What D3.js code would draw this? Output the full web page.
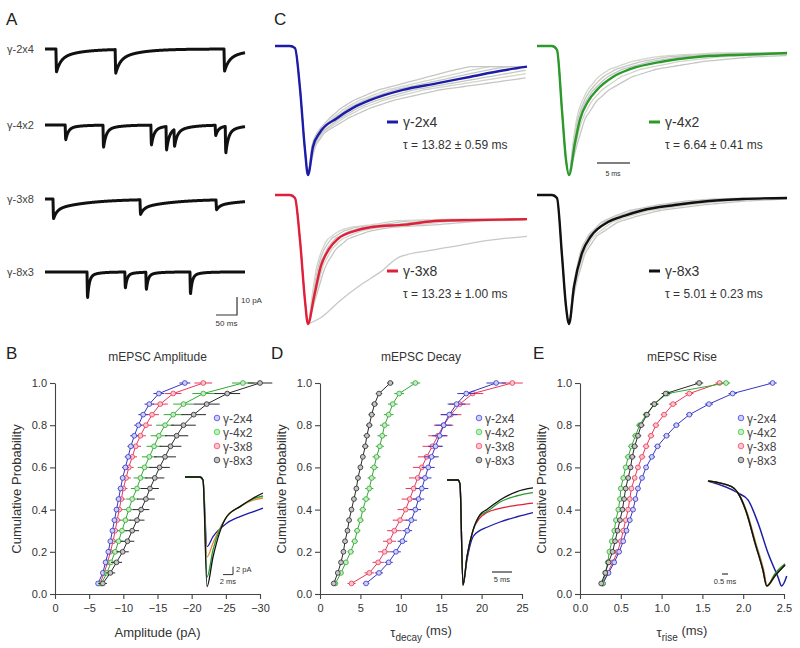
<!DOCTYPE html>
<html><head><meta charset="utf-8">
<script src="https://cdn.jsdelivr.net/npm/d3@7"></script>
<style>
body{margin:0;background:#fff}
svg{display:block}
text{font-family:"Liberation Sans",Arial,Helvetica,sans-serif;fill:#333}
</style>
</head><body>
<svg id="fig" width="800" height="648"></svg>
<script>
// ---------------- DATA ----------------
const seriesNames = ["γ-2x4", "γ-4x2", "γ-3x8", "γ-8x3"];
const lineColors = ["#3535c8", "#34a834", "#e8385a", "#2a2a2a"];
const markFills = ["#d0d0f6", "#c4ecc4", "#f9c6cc", "#c4c4c4"];
const traceColors = ["#1c1ca8", "#2b9a2b", "#e0203a", "#111111"];

const probs = [0.05,0.10,0.15,0.20,0.25,0.30,0.35,0.40,0.45,0.50,0.55,0.60,0.65,0.70,0.75,0.80,0.85,0.90,0.95,1.00];

// B: amplitude (pA)
const ampG2x4 = [-6.3,-7.0,-7.4,-7.8,-8.1,-8.4,-8.7,-9.0,-9.3,-9.6,-9.9,-10.3,-10.7,-11.1,-11.6,-12.2,-12.9,-13.8,-15.2,-19.0];
const ampG4x2 = [-6.8,-7.6,-8.2,-8.8,-9.3,-9.8,-10.3,-10.8,-11.3,-12.0,-12.5,-13.1,-13.8,-14.5,-15.2,-16.1,-17.3,-18.8,-21.7,-27.5];
const ampG3x8 = [-6.6,-7.2,-7.7,-8.1,-8.5,-8.8,-9.1,-9.4,-9.7,-10.0,-10.4,-10.8,-11.3,-11.8,-12.5,-13.3,-14.2,-15.4,-17.3,-21.7];
const ampG8x3 = [-7.0,-8.1,-9.0,-9.9,-10.6,-11.3,-12.0,-12.6,-13.3,-13.9,-14.6,-15.3,-16.1,-16.9,-17.8,-18.8,-20.3,-22.2,-25.2,-30.0];
const ampErrG2x4 = [0.3,0.3,0.3,0.3,0.3,0.3,0.4,0.4,0.4,0.4,0.4,0.5,0.5,0.5,0.6,0.6,0.7,0.7,0.8,0.8];
const ampErrG4x2 = [0.5,0.5,0.6,0.6,0.7,0.7,0.8,0.8,0.9,0.9,1.0,1.0,1.1,1.1,1.2,1.3,1.4,1.5,1.6,1.6];
const ampErrG3x8 = [0.4,0.4,0.4,0.5,0.5,0.5,0.5,0.6,0.6,0.6,0.7,0.7,0.7,0.8,0.8,0.9,1.0,1.1,1.2,1.3];
const ampErrG8x3 = [0.6,0.7,0.8,0.9,1.0,1.0,1.1,1.2,1.3,1.3,1.4,1.5,1.6,1.6,1.7,1.8,1.8,1.9,1.9,1.8];

// D: decay tau (ms)
const decG2x4 = [5.7,7.3,8.5,9.4,10.2,10.8,11.3,11.8,12.2,12.6,13.0,13.4,13.8,14.3,14.8,15.3,16.0,16.9,18.1,21.8];
const decG4x2 = [1.9,2.6,3.2,3.8,4.3,4.6,5.0,5.3,5.7,6.1,6.4,6.7,7.0,7.4,7.7,8.0,8.5,9.0,9.8,11.8];
const decG3x8 = [3.9,6.1,7.2,8.0,8.6,9.2,9.9,10.6,11.1,11.6,12.1,12.6,13.2,13.9,14.6,15.3,16.2,17.3,18.9,23.8];
const decG8x3 = [1.7,2.2,2.6,2.9,3.1,3.4,3.6,3.9,4.2,4.5,4.7,5.0,5.3,5.6,5.8,6.1,6.4,6.75,7.3,8.7];
const decErrG2x4 = [0.4,0.5,0.5,0.6,0.6,0.6,0.7,0.7,0.7,0.8,0.8,0.8,0.9,0.9,0.9,1.0,1.0,1.1,1.1,1.2];
const decErrG4x2 = [0.3,0.3,0.3,0.4,0.4,0.4,0.4,0.4,0.5,0.5,0.5,0.5,0.5,0.5,0.6,0.6,0.6,0.6,0.6,0.6];
const decErrG3x8 = [0.5,0.6,0.7,0.8,0.8,0.9,0.9,1.0,1.0,1.0,1.1,1.1,1.1,1.2,1.2,1.2,1.3,1.3,1.3,1.3];
const decErrG8x3 = [0.2,0.2,0.2,0.2,0.3,0.3,0.3,0.3,0.3,0.3,0.3,0.3,0.3,0.4,0.4,0.4,0.4,0.4,0.4,0.4];

// E: rise tau (ms)
const riseG2x4 = [0.28,0.35,0.42,0.48,0.53,0.57,0.61,0.65,0.68,0.71,0.76,0.81,0.88,0.95,1.06,1.18,1.34,1.58,1.87,2.36];
const riseG4x2 = [0.28,0.31,0.34,0.36,0.39,0.42,0.44,0.47,0.49,0.50,0.53,0.56,0.59,0.63,0.68,0.73,0.81,0.91,1.07,1.79];
const riseG3x8 = [0.28,0.34,0.40,0.46,0.50,0.53,0.56,0.59,0.61,0.63,0.67,0.71,0.76,0.81,0.87,0.93,1.03,1.14,1.34,1.71];
const riseG8x3 = [0.26,0.31,0.35,0.40,0.43,0.46,0.49,0.52,0.54,0.56,0.59,0.62,0.64,0.67,0.71,0.75,0.82,0.91,1.05,1.46];
const riseErr = [0.02,0.02,0.02,0.02,0.02,0.03,0.03,0.03,0.03,0.03,0.03,0.03,0.04,0.04,0.04,0.04,0.04,0.05,0.05,0.05];

// A: event times (ms) and amplitudes (pA) per example trace
const evTimes = [[26,167,426],[48,138,252,288,307,405,429],[19,226,407],[100,190,240,345]];
const evAmps  = [[-14,-14.5,-13.5],[-10,-15,-13.5,-16,-11.5,-7,-18],[-12,-9,-6],[-19.5,-12,-13,-16.5]];
const evTauFast = [10, 6, 8, 4];
const evTauSlow = [50, 30, 80, 20];
const evFracFast = [0.6, 0.8, 0.5, 0.85];

// C: normalized averaged traces (time ms, normalized current)
const cT_2x4 = [0,2.27,3.03,3.79,4.55,5.0,5.76,6.82,9.39,11.82,14.4,19.4,24.5,29.5,34.5,38.2];
const cV_2x4 = [0,0,-0.016,-0.33,-0.81,-1,-0.78,-0.67,-0.56,-0.48,-0.42,-0.34,-0.29,-0.24,-0.19,-0.16];
const cT_4x2 = [0,2.27,3.03,3.79,4.39,4.85,5.76,6.52,7.73,9.09,11.5,14.1,19.1,24.2,29.2,34.2,37.9];
const cV_4x2 = [0,0,-0.03,-0.5,-0.88,-1,-0.75,-0.57,-0.43,-0.34,-0.24,-0.18,-0.12,-0.085,-0.07,-0.062,-0.054];
const cT_3x8 = [0,2.27,3.03,3.79,4.55,5.0,5.91,6.97,8.18,9.55,12.0,14.5,19.7,24.8,30.0,38.2];
const cV_3x8 = [0,0,-0.023,-0.35,-0.82,-1,-0.79,-0.55,-0.42,-0.34,-0.28,-0.25,-0.23,-0.2,-0.195,-0.187];
const cT_8x3 = [0,2.27,3.03,3.79,4.39,4.85,5.61,6.82,8.18,10.76,13.33,15.9,20.9,26.1,31.2,37.9];
const cV_8x3 = [0,0,-0.023,-0.47,-0.86,-1,-0.71,-0.45,-0.32,-0.21,-0.16,-0.12,-0.078,-0.047,-0.031,-0.023];
// individual-cell spread (time-stretch factor of decay)
const cStretch = [[0.72,0.82,0.9,1.1,1.2,1.35],[0.7,0.85,1.15,1.3,1.5],[0.75,0.88,1.12,1.3,1.5],[0.8,0.9,1.1,1.2]];
const cOutT = [5.0,6.97,9.85,12.9,15.9,18.9,23.5,28.0,32.6,38.2];
const cOutV = [-1,-0.95,-0.82,-0.7,-0.6,-0.48,-0.43,-0.39,-0.35,-0.32];
const tauLabels = ["τ = 13.82 ± 0.59 ms", "τ = 6.64 ± 0.41 ms", "τ = 13.23 ± 1.00 ms", "τ = 5.01 ± 0.23 ms"];

// insets
const insBT = [0,3,3.6,4.4,5.6,8.3,11,13.6,15.6];
const insBV = [[0,0,-0.75,-17.4,-14.9,-11.6,-9.9,-8.7,-7.8],[0,0,-0.75,-25,-18.2,-10,-7.4,-5.5,-4.75],[0,0,-0.75,-20,-16.5,-10,-7.4,-5.8,-5.25],[0,0,-0.75,-27.4,-20,-10,-7.4,-5.3,-4]];
const insDT = [0,2.75,3.25,4,5,6.5,8.25,10,13.25,17.5,21.5];
const insDV = [[0,0,-0.04,-1,-0.76,-0.54,-0.48,-0.45,-0.4,-0.35,-0.31],[0,0,-0.04,-1,-0.73,-0.48,-0.34,-0.3,-0.21,-0.15,-0.12],[0,0,-0.04,-1,-0.73,-0.48,-0.36,-0.31,-0.27,-0.24,-0.22],[0,0,-0.04,-1,-0.73,-0.48,-0.33,-0.28,-0.19,-0.11,-0.076]];
const insET = [[0,2.5,3.33,4.17,5.0,5.83,6.14,6.56],[0,1.97,2.5,3.22,3.92,4.58,4.89,5.6,6.42],[0,1.97,2.5,3.25,3.95,4.62,4.93,5.6,6.42],[0,1.97,2.5,3.22,3.92,4.58,4.89,5.6,6.42]];
const insEV = [[0,-0.114,-0.18,-0.4,-0.686,-0.914,-1,-0.905],[0,-0.054,-0.114,-0.305,-0.59,-0.85,-1,-0.88,-0.79],[0,-0.054,-0.114,-0.3,-0.58,-0.84,-1,-0.9,-0.8],[0,-0.054,-0.114,-0.305,-0.59,-0.85,-1,-0.9,-0.8]];

// ---------------- DRAW ----------------
const svg = d3.select("#fig");
const font = '"Liberation Sans",Arial,Helvetica,sans-serif';

function letter(t, x, y) {
  svg.append("text").attr("x", x).attr("y", y).attr("font-size", 17).style("fill","#222").text(t);
}
letter("A", 6, 25); letter("C", 274, 25); letter("B", 6, 359); letter("D", 271, 359); letter("E", 533, 359);

// ----- Panel A -----
const xA = d3.scaleLinear().domain([0, 476]).range([45, 245]);
const baseA = [49, 125, 199, 272];
const tSamp = d3.range(0, 476.01, 0.5);
evTimes.forEach((times, i) => {
  const yA = d3.scaleLinear().domain([0, -10]).range([baseA[i], baseA[i] + 18]);
  const vals = tSamp.map(t => {
    let v = 0;
    times.forEach((t0, k) => {
      const dt = t - t0;
      if (dt >= 0) {
        const rise = Math.min(1, dt / 1.2);
        v += evAmps[i][k] * rise * (evFracFast[i] * Math.exp(-dt / evTauFast[i]) + (1 - evFracFast[i]) * Math.exp(-dt / evTauSlow[i]));
      }
    });
    return v;
  });
  svg.append("path").datum(tSamp.map((t, j) => [t, vals[j]]))
    .attr("d", d3.line().x(d => xA(d[0])).y(d => yA(d[1])))
    .attr("fill", "none").attr("stroke", "#111").attr("stroke-width", 3).attr("stroke-linejoin", "round");
  svg.append("text").attr("x", 7).attr("y", baseA[i] + 4).attr("font-size", 11).style("fill", "#444").text(seriesNames[[0,1,2,3][i]]);
});
// scale bar A
{
  const y0 = 297, ySc = d3.scaleLinear().domain([0, 10]).range([0, 18]);
  const xEnd = xA(457), xStart = xA(407);
  svg.append("path").attr("d", `M${xStart},${y0 + ySc(10)}H${xEnd}V${y0}`).attr("fill", "none").attr("stroke", "#333").attr("stroke-width", 1.2);
  svg.append("text").attr("x", xEnd + 4).attr("y", y0 + 6).attr("font-size", 8).text("10 pA");
  svg.append("text").attr("x", (xStart + xEnd) / 2).attr("y", y0 + 29).attr("font-size", 8).attr("text-anchor", "middle").text("50 ms");
}

// ----- Panel C -----
const cTs = [cT_2x4, cT_4x2, cT_3x8, cT_8x3];
const cVs = [cV_2x4, cV_4x2, cV_3x8, cV_8x3];
const cX0 = [275, 537, 275, 537], cY0 = [46, 46, 195, 195];
const cPeakT = [5.0, 4.85, 5.0, 4.85];
cTs.forEach((ts, i) => {
  const xC = d3.scaleLinear().domain([0, 38.2]).range([cX0[i], cX0[i] + 252]);
  const yC = d3.scaleLinear().domain([0, -1]).range([cY0[i], cY0[i] + 129]);
  const pts = ts.map((t, j) => [t, cVs[i][j]]);
  const interp = t => {
    if (t >= ts[ts.length - 1]) return cVs[i][ts.length - 1];
    const j = d3.bisectRight(ts, t) - 1;
    const f = (t - ts[j]) / (ts[j + 1] - ts[j]);
    return cVs[i][j] + f * (cVs[i][j + 1] - cVs[i][j]);
  };
  const line = d3.line().x(d => xC(d[0])).y(d => yC(d[1])).curve(d3.curveMonotoneX);
  cStretch[i].forEach((k, m) => {
    const g = ts.filter(t => t <= cPeakT[i]).map((t, j) => [t, cVs[i][j]]);
    const after = d3.range(cPeakT[i] + 0.6, 38.21, 0.6).map(t => [t, interp(cPeakT[i] + (t - cPeakT[i]) * k)]);
    svg.append("path").datum(g.concat(after)).attr("d", line).attr("fill", "none")
      .attr("stroke", m % 3 === 1 ? "#d2d6c8" : "#c6c6c6").attr("stroke-width", 1.3);
  });
  if (i === 2) {
    svg.append("path").datum(cOutT.map((t, j) => [t, cOutV[j]])).attr("d", line).attr("fill", "none").attr("stroke", "#c8c8c8").attr("stroke-width", 1.3);
  }
  svg.append("path").datum(pts).attr("d", line).attr("fill", "none").attr("stroke", traceColors[i]).attr("stroke-width", 2.4);
  // legend
  const lx = cX0[i] + 112, ly = cY0[i] + 76;
  svg.append("line").attr("x1", lx).attr("x2", lx + 11).attr("y1", ly).attr("y2", ly).attr("stroke", traceColors[i]).attr("stroke-width", 3);
  svg.append("text").attr("x", lx + 16).attr("y", ly + 5).attr("font-size", 14).style("fill", "#333").text(seriesNames[i]);
  svg.append("text").attr("x", lx + 16).attr("y", ly + 27).attr("font-size", 12).style("fill", "#333").text(tauLabels[i]);
  if (i === 1) {
    const x5 = d3.scaleLinear().domain([0, 5]).range([597, 630]);
    svg.append("line").attr("x1", x5(0)).attr("x2", x5(5)).attr("y1", 163).attr("y2", 163).attr("stroke", "#555").attr("stroke-width", 1.3);
    svg.append("text").attr("x", 613).attr("y", 176).attr("font-size", 7).attr("text-anchor", "middle").text("5 ms");
  }
});

// ----- Cumulative panels -----
function cumPanel(o) {
  const x = d3.scaleLinear().domain(o.domain).range(o.range);
  const y = d3.scaleLinear().domain([0, 1]).range([594, 383]);
  const g = svg.append("g");
  const ax = g.append("g").attr("transform", "translate(0,594)")
    .call(d3.axisBottom(x).tickValues(o.ticks).tickFormat(o.fmt).tickSize(5).tickPadding(5).tickSizeOuter(0));
  const ay = g.append("g").attr("transform", `translate(${o.range[0]},0)`)
    .call(d3.axisLeft(y).tickValues([0, 0.2, 0.4, 0.6, 0.8, 1.0]).tickFormat(d3.format(".1f")).tickSize(5).tickPadding(3).tickSizeOuter(0));
  [ax, ay].forEach(a => {
    a.selectAll("path,line").attr("stroke", "#444").attr("stroke-width", 1.1);
    a.selectAll("text").attr("font-size", 11).attr("font-family", font).style("fill", "#333");
  });
  const cx = (o.range[0] + o.range[1]) / 2;
  g.append("text").attr("x", cx).attr("y", 361).attr("text-anchor", "middle").attr("font-size", 12).text(o.title);
  g.append("text").attr("transform", `translate(${o.range[0] - 34},489) rotate(-90)`).attr("text-anchor", "middle").attr("font-size", 13).text("Cumulative Probability");
  o.xlabel(g.append("text").attr("x", cx).attr("y", 637).attr("text-anchor", "middle").attr("font-size", 13));
  // inset
  o.inset(g);
  // series
  const order = [2, 0, 1, 3];
  order.forEach(i => {
    const vals = o.data[i], errs = o.errs[i];
    const pts = probs.map((p, j) => [vals[j], p, errs[j]]);
    g.append("path").datum(pts).attr("d", d3.line().x(d => x(d[0])).y(d => y(d[1])))
      .attr("fill", "none").attr("stroke", lineColors[i]).attr("stroke-width", 1);
    g.selectAll(null).data(pts).enter().append("line")
      .attr("x1", d => x(d[0] - d[2])).attr("x2", d => x(d[0] + d[2]))
      .attr("y1", d => y(d[1])).attr("y2", d => y(d[1]))
      .attr("stroke", lineColors[i]).attr("stroke-width", 1);
    g.selectAll(null).data(pts).enter().append("circle")
      .attr("cx", d => x(d[0])).attr("cy", d => y(d[1])).attr("r", 2.4)
      .attr("fill", markFills[i]).attr("stroke", lineColors[i]).attr("stroke-width", 0.8);
  });
  // legend
  seriesNames.forEach((s, i) => {
    const ly = 418 + i * 14;
    g.append("circle").attr("cx", o.legX).attr("cy", ly).attr("r", 2.8).attr("fill", markFills[i]).attr("stroke", d3.color(lineColors[i]).brighter(0.6)).attr("stroke-width", 0.8);
    g.append("text").attr("x", o.legX + 6).attr("y", ly + 4.5).attr("font-size", 12).style("fill", "#444").text(s);
  });
}

cumPanel({
  domain: [0, -30], range: [55, 260], ticks: [0, -5, -10, -15, -20, -25, -30], fmt: d3.format("d"),
  title: "mEPSC Amplitude", data: [ampG2x4, ampG4x2, ampG3x8, ampG8x3], errs: [ampErrG2x4, ampErrG4x2, ampErrG3x8, ampErrG8x3],
  legX: 217,
  xlabel: t => t.text("Amplitude (pA)"),
  inset: g => {
    const xi = d3.scaleLinear().domain([0, 1]).range([185, 190]);
    const yi = d3.scaleLinear().domain([0, -1]).range([477, 481]);
    const ln = d3.line().x(d => xi(d[0])).y(d => yi(d[1])).curve(d3.curveMonotoneX);
    [0, 2, 1, 3].forEach(i => g.append("path").datum(insBT.map((t, j) => [t, insBV[i][j]])).attr("d", ln).attr("fill", "none").attr("stroke", i === 2 ? "#e08a3a" : traceColors[i]).attr("stroke-width", 1.3));
    g.append("path").attr("d", `M${xi(7.6)},${yi(-24.4)}H${xi(9.6)}V${yi(-22.4)}`).attr("fill", "none").attr("stroke", "#333");
    g.append("text").attr("x", xi(9.6) + 3).attr("y", yi(-22.4) + 5).attr("font-size", 7.5).text("2 pA");
    g.append("text").attr("x", xi(8.6)).attr("y", yi(-24.4) + 9).attr("font-size", 7.5).attr("text-anchor", "middle").text("2 ms");
  }
});

cumPanel({
  domain: [0, 25], range: [320, 522], ticks: [0, 5, 10, 15, 20, 25], fmt: d3.format("d"),
  title: "mEPSC Decay", data: [decG2x4, decG4x2, decG3x8, decG8x3], errs: [decErrG2x4, decErrG4x2, decErrG3x8, decErrG8x3],
  legX: 479,
  xlabel: t => { t.append("tspan").text("τ"); t.append("tspan").attr("dy", 4).attr("font-size", 10).text("decay"); t.append("tspan").attr("dy", -6).text(" (ms)"); },
  inset: g => {
    const xi = d3.scaleLinear().domain([0, 1]).range([447, 451]);
    const yi = d3.scaleLinear().domain([0, -1]).range([480, 585]);
    const ln = d3.line().x(d => xi(d[0])).y(d => yi(d[1])).curve(d3.curveMonotoneX);
    [0, 2, 1, 3].forEach(i => g.append("path").datum(insDT.map((t, j) => [t, insDV[i][j]])).attr("d", ln).attr("fill", "none").attr("stroke", traceColors[i]).attr("stroke-width", 1.3));
    g.append("line").attr("x1", xi(11.25)).attr("x2", xi(16.25)).attr("y1", 572).attr("y2", 572).attr("stroke", "#333").attr("stroke-width", 1.2);
    g.append("text").attr("x", xi(13.75)).attr("y", 582).attr("font-size", 7.5).attr("text-anchor", "middle").text("5 ms");
  }
});

cumPanel({
  domain: [0, 2.5], range: [580, 784], ticks: [0, 0.5, 1.0, 1.5, 2.0, 2.5], fmt: d3.format(".1f"),
  title: "mEPSC Rise", data: [riseG2x4, riseG4x2, riseG3x8, riseG8x3], errs: [riseErr, riseErr, riseErr, riseErr],
  legX: 741,
  xlabel: t => { t.append("tspan").text("τ"); t.append("tspan").attr("dy", 4).attr("font-size", 10).text("rise"); t.append("tspan").attr("dy", -6).text(" (ms)"); },
  inset: g => {
    const xi = d3.scaleLinear().domain([0, 1]).range([708, 720]);
    const yi = d3.scaleLinear().domain([0, -1]).range([481, 586]);
    const ln = d3.line().x(d => xi(d[0])).y(d => yi(d[1])).curve(d3.curveMonotoneX);
    [0, 1, 2, 3].forEach(i => g.append("path").datum(insET[i].map((t, j) => [t, insEV[i][j]])).attr("d", ln).attr("fill", "none").attr("stroke", i === 2 ? "#c08040" : traceColors[i]).attr("stroke-width", 1.5));
    g.append("line").attr("x1", xi(1.17)).attr("x2", xi(1.67)).attr("y1", 574).attr("y2", 574).attr("stroke", "#333").attr("stroke-width", 1.2);
    g.append("text").attr("x", xi(1.42)).attr("y", 584).attr("font-size", 7.5).attr("text-anchor", "middle").text("0.5 ms");
  }
});
</script>
</body></html>
